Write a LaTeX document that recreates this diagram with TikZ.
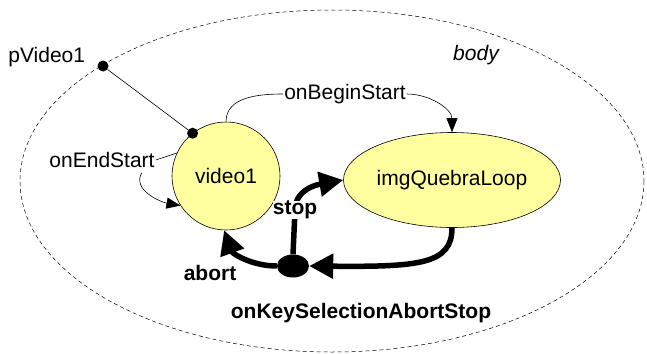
\documentclass[tikz,border=0pt]{standalone}
\usepackage{fontspec}
\setmainfont{Liberation Sans}
\usetikzlibrary{shapes.geometric, arrows.meta, positioning}
\definecolor{statefill}{RGB}{255,255,160}
\tikzset{
    state/.style={draw, fill=statefill, line width=0.6pt, inner sep=0pt, font=\fontsize{21}{25}\selectfont},
    lbl/.style={inner sep=1pt, font=\fontsize{21}{25}\selectfont},
    boldlbl/.style={inner sep=1pt, font=\fontsize{21}{25}\selectfont\bfseries},
    dot/.style={circle, fill, inner sep=0pt, minimum size=11pt},
    thin arrow/.style={line width=0.6pt, -{Triangle[length=14pt,width=11pt]}},
    thick arrow/.style={line width=5.5pt, -{Triangle[length=24pt,width=24pt]}}
}

\begin{document}
\begin{tikzpicture}[x=1pt, y=-1pt]
    \useasboundingbox (0,0) rectangle (647,353);
    % composite body
    \draw [line width=0.5pt, dash pattern=on 4pt off 3pt] (332,181) ellipse [x radius=312, y radius=171];
    \node (bodylbl) [lbl, font=\fontsize{21}{25}\selectfont\itshape] at (476,55) {body};

    % states
    \node (video1) [state, circle, minimum size=108pt] at (226,176) {video1};
    \node (quebra) [state, ellipse, minimum width=217pt, minimum height=95pt] at (452,180) {imgQuebraLoop};
    \node (junction) [ellipse, fill, inner sep=0pt, minimum width=32pt, minimum height=23pt] at (293,266) {};

    % port
    \node (pdot) [dot] at (103,66) {};
    \node (plbl) [lbl, left=11pt of pdot, yshift=9pt] {pVideo1};
    \node (vdot) [dot] at (video1.128) {};
    \draw [line width=0.6pt] (pdot) -- (vdot);

    % onBegin / onEnd links
    \node (beginlbl) [lbl] at (345,94) {onBeginStart};
    \draw [line width=0.6pt] (video1.north) to [out=90, in=180] (beginlbl.west);
    \draw [thin arrow] (beginlbl.east) to [out=0, in=90] (quebra.north);

    \node (endlbl) [lbl] at (102,160) {onEndStart};
    \draw [line width=0.6pt] (endlbl.east) -- (video1.155);
    \draw [thin arrow] ([xshift=-14pt, yshift=-4pt]endlbl.south east) to [out=240, in=170] (video1.213);

    % onKeySelection link
    \draw [thick arrow] (quebra.south) .. controls (452,264) and (420,267) .. (junction.east);
    \draw [thick arrow] (junction.north) -- (295,210) node [boldlbl, fill=white, inner sep=0pt] {stop} to [out=90, in=190] (quebra.west);
    \draw [thick arrow] (junction.west) to [out=180, in=-70] (video1.-92);
    \node (abortlbl) [boldlbl] at (210,273) {abort};
    \node (keylbl) [boldlbl] at (361,313) {onKeySelectionAbortStop};
\end{tikzpicture}
\end{document}
